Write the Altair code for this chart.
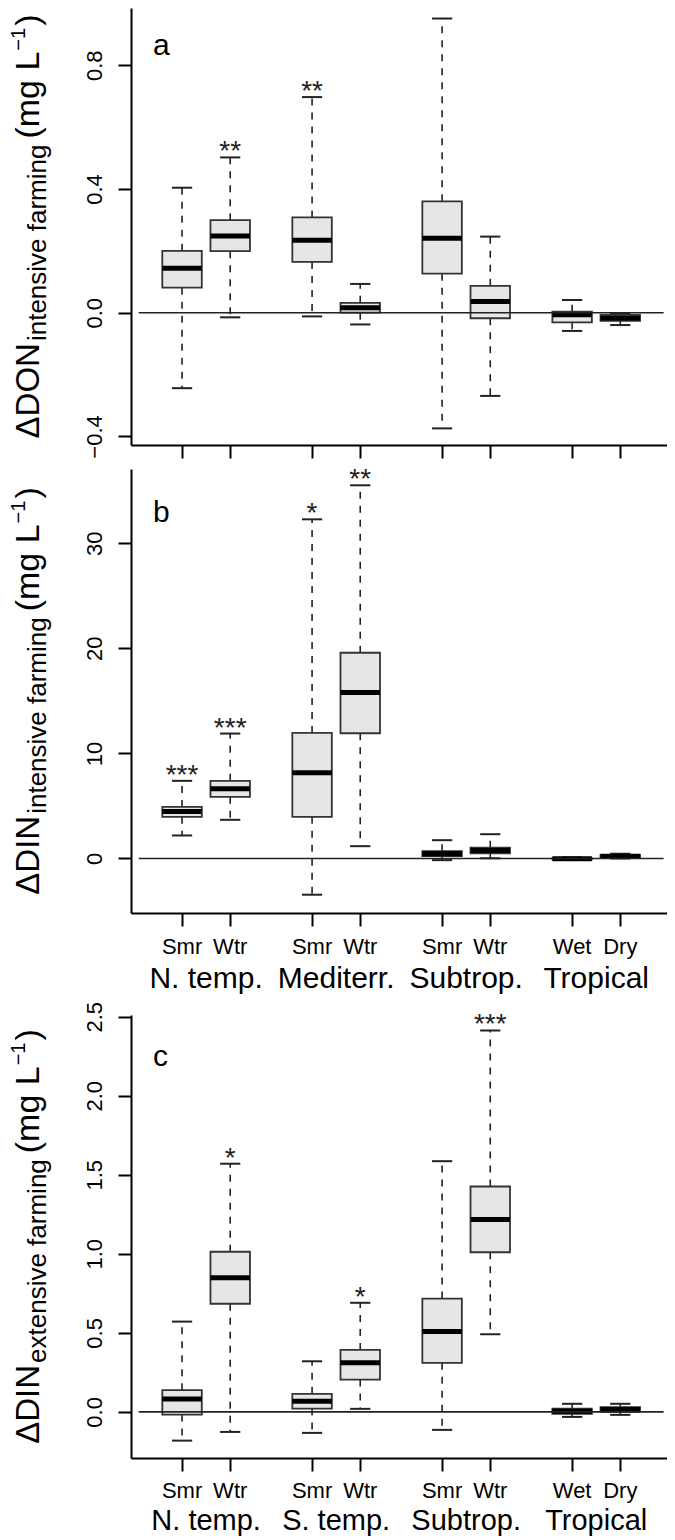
import altair as alt
import pandas as pd

# ---------------- data ----------------
POS = [1.0, 2.0, 3.7, 4.7, 6.4, 7.4, 9.1, 10.1]
SEASONS = ["Smr", "Wtr", "Smr", "Wtr", "Smr", "Wtr", "Wet", "Dry"]
GROUP_POS = [1.5, 4.2, 6.9, 9.6]
GROUPS_B = ["N. temp.", "Mediterr.", "Subtrop.", "Tropical"]
GROUPS_C = ["N. temp.", "S. temp.", "Subtrop.", "Tropical"]

# panel a: delta DON, intensive farming
A_LO = [-0.244, -0.015, -0.012, -0.038, -0.374, -0.269, -0.059, -0.040]
A_Q1 = [0.081, 0.199, 0.164, 0.000, 0.126, -0.018, -0.031, -0.026]
A_MED = [0.144, 0.248, 0.234, 0.016, 0.241, 0.036, -0.007, -0.017]
A_Q3 = [0.200, 0.299, 0.308, 0.032, 0.360, 0.087, 0.003, -0.007]
A_HI = [0.404, 0.502, 0.697, 0.093, 0.951, 0.246, 0.041, -0.002]
A_STARS = ["", "**", "**", "", "", "", "", ""]

# panel b: delta DIN, intensive farming
B_LO = [2.19, 3.68, -3.45, 1.17, -0.16, 0.02, -0.12, 0.00]
B_Q1 = [3.96, 5.87, 3.96, 11.92, 0.22, 0.48, -0.08, 0.08]
B_MED = [4.46, 6.63, 8.15, 15.79, 0.46, 0.76, -0.02, 0.22]
B_Q3 = [4.91, 7.39, 11.95, 19.58, 0.69, 1.02, 0.04, 0.35]
B_HI = [7.39, 11.89, 32.28, 35.52, 1.74, 2.31, 0.10, 0.45]
B_STARS = ["***", "***", "*", "**", "", "", "", ""]

# panel c: delta DIN, extensive farming
C_LO = [-0.182, -0.127, -0.133, 0.019, -0.114, 0.491, -0.032, -0.019]
C_Q1 = [-0.017, 0.684, 0.021, 0.204, 0.310, 1.010, -0.013, 0.000]
C_MED = [0.082, 0.848, 0.067, 0.310, 0.508, 1.217, 0.004, 0.015]
C_Q3 = [0.137, 1.013, 0.114, 0.392, 0.717, 1.426, 0.021, 0.029]
C_HI = [0.571, 1.570, 0.320, 0.690, 1.586, 2.413, 0.051, 0.051]
C_STARS = ["", "*", "", "*", "", "***", "", ""]

A_TICKS = [-0.4, 0.0, 0.4, 0.8]
B_TICKS = [0, 10, 20, 30]
C_TICKS = [0.0, 0.5, 1.0, 1.5, 2.0, 2.5]

# ---------------- style ----------------
FONT = "Liberation Sans"
SEASON_FONT = "Liberation Sans Narrow, Liberation Sans"
HALF_BOX = 0.41
HALF_CAP = 0.21
ZERO_FROM, ZERO_TO = 0.1, 11.0
XDOM = [-0.06, 11.07]
W_PLOT = 536

# approximate Arial/Liberation Sans advance widths (em) for title layout
EM = {"Δ": 0.668, "D": 0.722, "O": 0.778, "N": 0.722, "I": 0.278, "i": 0.222,
      "n": 0.556, "t": 0.278, "e": 0.556, "s": 0.5, "v": 0.5, "x": 0.5,
      " ": 0.278, "f": 0.278, "a": 0.556, "r": 0.333, "m": 0.833, "g": 0.556,
      "(": 0.333, ")": 0.333, "L": 0.556, "−": 0.584, "1": 0.556}


def text_len(s, fs):
    return sum(EM.get(c, 0.55) for c in s) * fs


def title_layers(main, sub, H):
    # (text, font size, baseline x offset from axis, gap before)
    pieces = [(main, 33, -92, 0), (sub, 26, -85, 2), ("(mg L", 34, -92, 6),
              ("−1", 20, -106, 1), (")", 34, -92, 2)]
    total = sum(text_len(t, fs) + g for t, fs, _, g in pieces)
    y = H / 2 + total / 2
    out = []
    for t, fs, x, g in pieces:
        y -= g
        out.append(
            alt.Chart(pd.DataFrame({"t": [t]}))
            .mark_text(angle=270, align="left", baseline="alphabetic",
                       fontSize=fs, font=FONT, color="black")
            .encode(x=alt.value(x), y=alt.value(y), text="t:N")
        )
        y -= text_len(t, fs)
    return out


def panel(lo, q1, med, q3, hi, stars, ydom, yticks, yfmt, H, letter, letter_y,
          main, sub, groups=None, season_dy=41, group_dy=75, group_fs=30):
    df = pd.DataFrame({"pos": POS, "lo": lo, "q1": q1, "med": med, "q3": q3,
                       "hi": hi, "star": stars})
    df["left"] = df["pos"] - HALF_BOX
    df["right"] = df["pos"] + HALF_BOX
    df["cl"] = df["pos"] - HALF_CAP
    df["cr"] = df["pos"] + HALF_CAP

    xs = alt.Scale(domain=XDOM, nice=False, zero=False)
    ys = alt.Scale(domain=ydom, nice=False, zero=False)
    xax = alt.Axis(values=POS, labels=False, tickSize=13, tickWidth=2,
                   domainWidth=2, domainColor="black", tickColor="black",
                   grid=False, title=None)
    yax = alt.Axis(values=yticks, format=yfmt, labelAngle=270, labelAlign="center",
                   labelBaseline="alphabetic", labelPadding=17, tickSize=13,
                   tickWidth=2, domainWidth=2, domainColor="black",
                   tickColor="black", labelFontSize=22, labelFont=FONT,
                   labelColor="black", labelOverlap=False, labelFlush=False,
                   grid=False, title=None)

    def X(f):
        return alt.X(f, type="quantitative", scale=xs, axis=xax)

    def Y(f):
        return alt.Y(f, type="quantitative", scale=ys, axis=yax)

    base = alt.Chart(df)
    layers = [
        base.mark_rule(color="#222", strokeWidth=1.6, strokeDash=[7, 7])
        .encode(x=X("pos"), y=Y("q1"), y2=alt.Y2("lo")),
        base.mark_rule(color="#222", strokeWidth=1.6, strokeDash=[7, 7])
        .encode(x=X("pos"), y=Y("q3"), y2=alt.Y2("hi")),
        base.mark_rule(color="#222", strokeWidth=2)
        .encode(x=X("cl"), x2=alt.X2("cr"), y=Y("lo")),
        base.mark_rule(color="#222", strokeWidth=2)
        .encode(x=X("cl"), x2=alt.X2("cr"), y=Y("hi")),
        base.mark_rect(fill="#e6e6e6", stroke="#333", strokeWidth=1.8)
        .encode(x=X("left"), x2=alt.X2("right"), y=Y("q1"), y2=alt.Y2("q3")),
        base.mark_rule(color="black", strokeWidth=5, strokeCap="butt")
        .encode(x=X("left"), x2=alt.X2("right"), y=Y("med")),
        alt.Chart(pd.DataFrame({"x0": [ZERO_FROM], "x1": [ZERO_TO], "y0": [0.0]}))
        .mark_rule(color="#222", strokeWidth=1.6)
        .encode(x=X("x0"), x2=alt.X2("x1"), y=Y("y0")),
        base.transform_filter("datum.star != ''")
        .mark_text(fontSize=28, dy=3, baseline="alphabetic", font=FONT, color="#222")
        .encode(x=X("pos"), y=Y("hi"), text="star:N"),
        alt.Chart(pd.DataFrame({"t": [letter]}))
        .mark_text(align="left", baseline="alphabetic", fontSize=30, font=FONT,
                   color="black")
        .encode(x=alt.value(22), y=alt.value(letter_y), text="t:N"),
    ]
    layers += title_layers(main, sub, H)
    if groups is not None:
        layers.append(
            alt.Chart(pd.DataFrame({"pos": POS, "lab": SEASONS}))
            .mark_text(font=SEASON_FONT, fontSize=22, baseline="alphabetic",
                       color="black")
            .encode(x=X("pos"), y=alt.value(H + season_dy), text="lab:N")
        )
        layers.append(
            alt.Chart(pd.DataFrame({"pos": GROUP_POS, "lab": groups}))
            .mark_text(font=FONT, fontSize=group_fs, baseline="alphabetic",
                       color="black")
            .encode(x=X("pos"), y=alt.value(H + group_dy), text="lab:N")
        )
    return alt.layer(*layers).properties(width=W_PLOT, height=H)


pa = panel(A_LO, A_Q1, A_MED, A_Q3, A_HI, A_STARS, [-0.4277, 0.985], A_TICKS,
           ".1f", 437, "a", 47, "ΔDON", "intensive farming")
pb = panel(B_LO, B_Q1, B_MED, B_Q3, B_HI, B_STARS, [-5.19, 37.07], B_TICKS,
           "d", 444, "b", 52.6, "ΔDIN", "intensive farming", groups=GROUPS_B,
           season_dy=41, group_dy=75, group_fs=30)
pc = panel(C_LO, C_Q1, C_MED, C_Q3, C_HI, C_STARS, [-0.292, 2.511], C_TICKS,
           ".1f", 443, "c", 51.4, "ΔDIN", "extensive farming", groups=GROUPS_C,
           season_dy=40, group_dy=72, group_fs=29)

chart = (
    alt.vconcat(pa, alt.vconcat(pb, pc, spacing=7), spacing=7)
    .properties(padding={"left": 0, "right": 0, "top": 0, "bottom": 0},
                background="white")
    .configure_view(stroke=None)
)

chart.save("out.html", embed_options={"renderer": "svg", "actions": False})
